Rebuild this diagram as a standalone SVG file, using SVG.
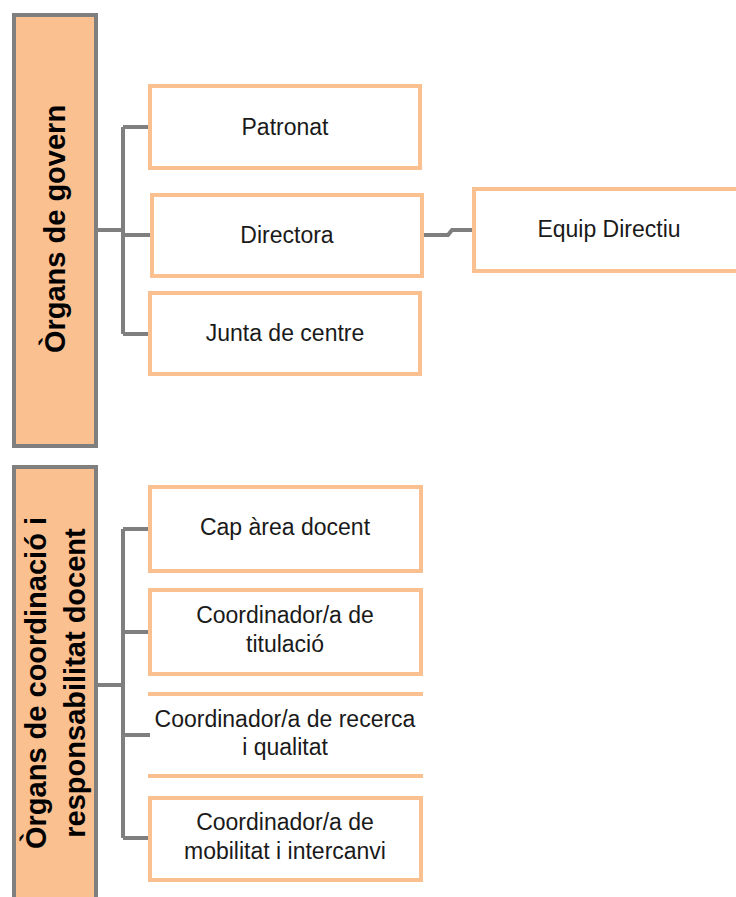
<svg xmlns="http://www.w3.org/2000/svg" width="736" height="897" viewBox="0 0 736 897">
<style>
.side{fill:#FAC090;stroke:#7F7F7F;stroke-width:4}
.box{fill:#FFFFFF;stroke:#FAC090;stroke-width:4}
.line{fill:none;stroke:#7F7F7F;stroke-width:4}
.t{font-family:"Liberation Sans",Arial,sans-serif;font-size:23px;fill:#1a1a1a;text-anchor:middle}
.v{font-family:"Liberation Sans",Arial,sans-serif;font-size:29px;font-weight:bold;fill:#000;text-anchor:middle}
</style>
<rect width="736" height="897" fill="#FFFFFF"/>
<g id="connectors">
<path class="line" d="M98 230 H123 M123 127 V334 M123 127 H150 M123 235 H152 M123 334 H150"/>
<path class="line" d="M424 235 H448 L452 230 H474"/>
<path class="line" d="M98 685 H123 M123 529 V838 M123 529 H150 M123 632 H150 M123 735 H150 M123 838 H150"/>
</g>
<g id="organs-govern">
<rect class="side" x="14" y="15" width="82" height="431"/>
<text class="v" transform="translate(65,229) rotate(-90)">Òrgans de govern</text>
</g>
<g id="patronat">
<rect class="box" x="150" y="86" width="270" height="82"/>
<text class="t" x="285" y="135">Patronat</text>
</g>
<g id="directora">
<rect class="box" x="152" y="195" width="270" height="81"/>
<text class="t" x="287" y="243">Directora</text>
</g>
<g id="junta">
<rect class="box" x="150" y="293" width="270" height="81"/>
<text class="t" x="285" y="341">Junta de centre</text>
</g>
<g id="equip">
<rect class="box" x="474" y="189" width="272" height="82"/>
<text class="t" x="609" y="237">Equip Directiu</text>
</g>
<g id="organs-coordinacio">
<rect class="side" x="14" y="467" width="82" height="440"/>
<text class="v" transform="translate(46,683) rotate(-90)">Òrgans de coordinació i</text>
<text class="v" transform="translate(85,683) rotate(-90)">responsabilitat docent</text>
</g>
<g id="cap-area">
<rect class="box" x="150" y="487" width="271" height="84"/>
<text class="t" x="285" y="535">Cap àrea docent</text>
</g>
<g id="coord-titulacio">
<rect class="box" x="150" y="590" width="271" height="84"/>
<text class="t" x="285" y="623">Coordinador/a de</text>
<text class="t" x="285" y="652">titulació</text>
</g>
<g id="coord-recerca">
<path d="M148 694 H423 M148 776 H423" stroke="#FAC090" stroke-width="4" fill="none"/>
<text class="t" x="285" y="727">Coordinador/a de recerca</text>
<text class="t" x="285" y="755">i qualitat</text>
</g>
<g id="coord-mobilitat">
<rect class="box" x="150" y="798" width="271" height="82"/>
<text class="t" x="285" y="830">Coordinador/a de</text>
<text class="t" x="285" y="859">mobilitat i intercanvi</text>
</g>
</svg>
